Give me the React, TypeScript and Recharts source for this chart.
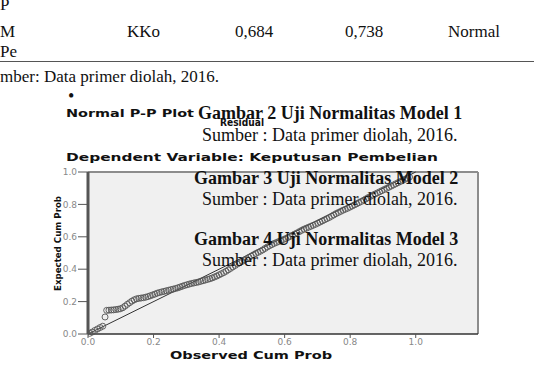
import React from 'react';
import { ScatterChart, Scatter, XAxis, YAxis, ReferenceLine, CartesianGrid } from 'recharts';

// Observed cumulative probability (x) and expected cumulative probability (y)
const obsCumProb = [
  0.005, 0.013, 0.021, 0.029, 0.037, 0.045, 0.052, 0.057, 0.064, 0.071, 0.078, 0.085, 0.092, 0.099,
  0.106, 0.113, 0.12, 0.127, 0.134, 0.141, 0.148, 0.155, 0.162, 0.169, 0.176, 0.183, 0.19, 0.197,
  0.204, 0.211, 0.218, 0.225, 0.232, 0.239, 0.246, 0.253, 0.26, 0.267, 0.274, 0.281, 0.288, 0.295,
  0.302, 0.309, 0.316, 0.323, 0.33, 0.337, 0.344, 0.351, 0.358, 0.365, 0.372, 0.379, 0.386, 0.393,
  0.4, 0.407, 0.414, 0.421, 0.428, 0.435, 0.442, 0.449, 0.456, 0.463, 0.47, 0.477, 0.484, 0.491,
  0.498, 0.505, 0.512, 0.519, 0.526, 0.533, 0.54, 0.547, 0.554, 0.561, 0.568, 0.575, 0.582, 0.589,
  0.596, 0.603, 0.61, 0.617, 0.624, 0.631, 0.638, 0.645, 0.652, 0.659, 0.666, 0.673, 0.68, 0.687,
  0.694, 0.701, 0.708, 0.715, 0.722, 0.729, 0.736, 0.743, 0.75, 0.757, 0.764, 0.771, 0.778, 0.785,
  0.792, 0.799, 0.806, 0.813, 0.82, 0.827, 0.834, 0.841, 0.848, 0.855, 0.862, 0.869, 0.876, 0.883,
  0.89, 0.897, 0.904, 0.911, 0.918, 0.925, 0.932, 0.939, 0.946, 0.953, 0.96, 0.967, 0.974, 0.981,
];
const expCumProb = [
  0.004, 0.012, 0.022, 0.031, 0.04, 0.048, 0.105, 0.146, 0.147, 0.148, 0.149, 0.151, 0.153, 0.156,
  0.162, 0.172, 0.183, 0.193, 0.203, 0.211, 0.217, 0.22, 0.222, 0.224, 0.227, 0.231, 0.236, 0.241,
  0.246, 0.252, 0.256, 0.26, 0.263, 0.267, 0.27, 0.274, 0.277, 0.281, 0.285, 0.29, 0.295, 0.3,
  0.304, 0.308, 0.312, 0.315, 0.318, 0.321, 0.325, 0.329, 0.333, 0.337, 0.341, 0.346, 0.352, 0.358,
  0.365, 0.372, 0.379, 0.387, 0.396, 0.405, 0.414, 0.423, 0.432, 0.44, 0.448, 0.456, 0.464, 0.473,
  0.481, 0.489, 0.497, 0.504, 0.511, 0.519, 0.528, 0.537, 0.545, 0.552, 0.559, 0.565, 0.571, 0.577,
  0.583, 0.589, 0.596, 0.603, 0.61, 0.617, 0.624, 0.632, 0.64, 0.647, 0.653, 0.659, 0.665, 0.671,
  0.677, 0.684, 0.691, 0.698, 0.705, 0.712, 0.719, 0.727, 0.735, 0.743, 0.75, 0.757, 0.764, 0.77,
  0.776, 0.783, 0.79, 0.797, 0.804, 0.811, 0.818, 0.826, 0.834, 0.842, 0.85, 0.857, 0.864, 0.871,
  0.878, 0.885, 0.892, 0.899, 0.906, 0.913, 0.92, 0.927, 0.934, 0.941, 0.948, 0.955, 0.962, 0.969,
];
const axisTicks = [0, 0.2, 0.4, 0.6, 0.8, 1.0];
const xDomainMax = 1.19;

const tableLabels = ['KKo', '0,684', '0,738', 'Normal'];
const captionTitles = ['Gambar 2 Uji Normalitas Model 1', 'Gambar 3  Uji Normalitas Model 2', 'Gambar 4  Uji Normalitas Model 3'];
const captionSource = 'Sumber : Data primer diolah, 2016.';

const points = obsCumProb.map((x, i) => ({ x, y: expCumProb[i] }));

const Ring = (p: any) => (
  <circle cx={p.cx} cy={p.cy} r={3} fill="none" stroke="#555" strokeWidth={0.9} />
);

const serif = "'Liberation Serif', 'Times New Roman', serif";
const sans = "'DejaVu Sans', sans-serif";

export default function App() {
  const tableX = [127, 235, 345, 448];
  const capY = [[119, 141], [184, 205], [245, 266]];
  const capX = [198, 194, 194];
  return (
    <div style={{ position: 'absolute', left: 0, top: 0, width: 534, height: 384, background: '#fff', overflow: 'hidden' }}>
      <ScatterChart width={534} height={384} margin={{ top: 172, right: 56, bottom: 0, left: 58 }}>
        <CartesianGrid fill="#f0f0f0" horizontal={false} vertical={false} stroke="none" />
        <XAxis
          type="number"
          dataKey="x"
          domain={[0, xDomainMax]}
          ticks={axisTicks}
          interval={0}
          allowDataOverflow
          tickFormatter={(v: number) => v.toFixed(1)}
          height={50}
          axisLine={{ stroke: '#333', strokeWidth: 1.5 }}
          tickLine={{ stroke: '#555' }}
          tickSize={4}
          tickMargin={1}
          tick={{ fill: '#888', fontSize: 9, fontFamily: sans }}
        />
        <YAxis
          type="number"
          dataKey="y"
          domain={[0, 1]}
          ticks={axisTicks}
          interval={0}
          tickFormatter={(v: number) => v.toFixed(1)}
          width={30}
          axisLine={{ stroke: '#555', strokeWidth: 3 }}
          tickLine={{ stroke: '#555' }}
          tickSize={10}
          tickMargin={1}
          tick={{ fill: '#888', fontSize: 9, fontFamily: sans }}
        />
        <ReferenceLine y={1} stroke="#8c8c8c" strokeWidth={2} />
        <ReferenceLine x={xDomainMax} stroke="#8c8c8c" strokeWidth={2} />
        <ReferenceLine segment={[{ x: 0, y: 0 }, { x: 1, y: 1 }]} stroke="#333" strokeWidth={1} />
        <Scatter data={points} shape={Ring} isAnimationActive={false} />
      </ScatterChart>
      <svg width={534} height={384} style={{ position: 'absolute', left: 0, top: 0, pointerEvents: 'none' }}>
        {/* SPSS chart titles */}
        <text x={66} y={117} fontFamily={sans} fontWeight="bold" fontSize={10.5} textLength={128} lengthAdjust="spacingAndGlyphs" fill="#111">Normal P-P Plot</text>
        <text x={220} y={126} fontFamily={sans} fontWeight="bold" fontSize={10.5} textLength={44} lengthAdjust="spacingAndGlyphs" fill="#111">Residual</text>
        <text x={66} y={161} fontFamily={sans} fontWeight="bold" fontSize={10.5} textLength={372} lengthAdjust="spacingAndGlyphs" fill="#111">Dependent Variable: Keputusan Pembelian</text>
        <text x={170} y={359} fontFamily={sans} fontWeight="bold" fontSize={10.5} textLength={162} lengthAdjust="spacingAndGlyphs" fill="#111">Observed Cum Prob</text>
        <text x={0} y={0} transform="translate(61,291) rotate(-90)" fontFamily={sans} fontWeight="bold" fontSize={9.5} textLength={95} lengthAdjust="spacingAndGlyphs" fill="#111">Expected Cum Prob</text>

        {/* document text above */}
        <text x={0} y={10} fontFamily={serif} fontSize={17} fill="#111">P</text>
        <text x={0} y={37} fontFamily={serif} fontSize={17} fill="#111">M</text>
        {tableLabels.map((t, i) => (
          <text key={t} x={tableX[i]} y={37} fontFamily={serif} fontSize={17} fill="#111">{t}</text>
        ))}
        <text x={0} y={57} fontFamily={serif} fontSize={17} fill="#111">Pe</text>
        <line x1={0} x2={534} y1={61.5} y2={61.5} stroke="#555" strokeWidth={1} />
        <text x={0} y={82} fontFamily={serif} fontSize={17} fill="#111">mber: Data primer diolah, 2016.</text>
        <text x={68} y={102} fontFamily={serif} fontSize={18} fill="#111">•</text>

        {/* overlaid captions */}
        {captionTitles.map((t, i) => (
          <g key={t}>
            <text x={capX[i]} y={capY[i][0]} fontFamily={serif} fontWeight="bold" fontSize={18} fill="#111">{t}</text>
            <text x={202} y={capY[i][1]} fontFamily={serif} fontSize={18} fill="#111">{captionSource}</text>
          </g>
        ))}
      </svg>
    </div>
  );
}
